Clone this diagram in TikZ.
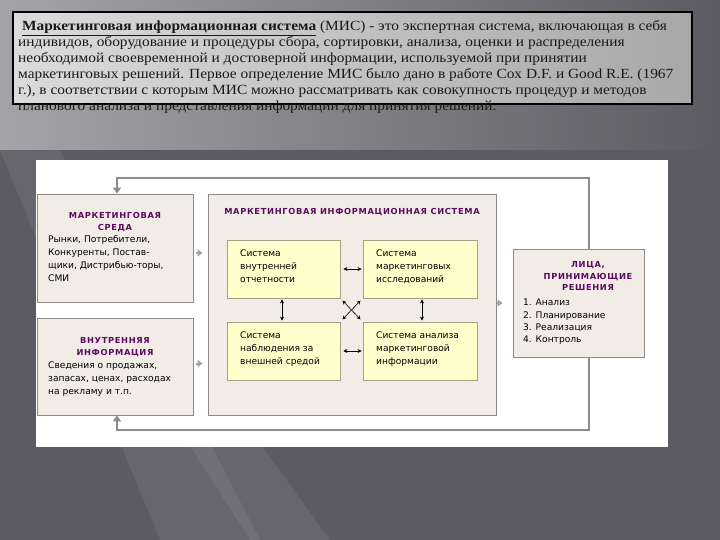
\documentclass[tikz,border=0pt]{standalone}
\usepackage{fontspec}
\setmainfont{Liberation Serif}
\newfontfamily\hfont[FakeStretch=1.1]{Liberation Serif}
\newfontfamily\dfont{DejaVu Sans}
\newfontfamily\tfont[LetterSpace=8]{DejaVu Sans Bold}
\usetikzlibrary{arrows.meta,calc}
\definecolor{bgdark}{HTML}{5C5B61}
\definecolor{bglight}{HTML}{A4A4A8}
\definecolor{boxfill}{HTML}{F1EDE6}
\definecolor{boxline}{HTML}{8E8B86}
\definecolor{innerfill}{HTML}{FFFFCC}
\definecolor{innerline}{HTML}{A3A18A}
\definecolor{ttl}{HTML}{5E0A62}
\definecolor{fbgray}{HTML}{8C8C8C}
\begin{document}
\begin{tikzpicture}[x=1pt,y=-1pt,
  outerbox/.style={draw=boxline,fill=boxfill,line width=0.8pt,inner sep=0pt},
  innerbox/.style={draw=innerline,fill=innerfill,line width=0.8pt,inner sep=0pt},
  ttltext/.style={font=\tfont\fontsize{8.3}{12}\selectfont,text=ttl,align=center,inner sep=0pt},
  bodytext/.style={font=\dfont\fontsize{9.1}{13}\selectfont,text=black,align=left,inner sep=0pt,anchor=north west},
  headline/.style={font=\hfont\fontsize{14}{16}\selectfont,text=black!90,anchor=base west,inner sep=0pt},
  fbarrow/.style={draw=fbgray,line width=2.6pt,-{Triangle[width=8pt,length=6pt]}},
  grayarrow/.style={draw=fbgray!80,line width=2pt,-{Triangle[width=7pt,length=5pt]}},
  dblarrow/.style={draw=black,line width=0.6pt,{Stealth[width=4pt,length=4pt]}-{Stealth[width=4pt,length=4pt]}}
]
\useasboundingbox (0,0) rectangle (720,540);
% background
\fill[bgdark] (0,0) rectangle (720,540);
\shade[left color=bglight,right color=bgdark] (0,0) rectangle (720,150);
\fill[white,opacity=0.07] (0,150) -- (60,150) -- (260,540) -- (160,540) -- cycle;
\fill[white,opacity=0.07] (180,430) -- (250,430) -- (330,540) -- (250,540) -- cycle;
% header text box
\shade[left color=black!14,right color=black!34,draw=black,line width=1.2pt] (13,12) rectangle (692,104);
\node[headline] (h1) at (18,31) {\ \underline{\textbf{Маркетинговая информационная система}} (МИС) - это экспертная система, включающая в себя};
\node[headline] (h2) at (18,47) {индивидов, оборудование и процедуры сбора, сортировки, анализа, оценки и распределения};
\node[headline] (h3) at (18,63) {необходимой своевременной и достоверной информации, используемой при принятии};
\node[headline] (h4) at (18,79) {маркетинговых решений. Первое определение МИС было дано в работе Cox D.F. и Good R.E. (1967};
\node[headline] (h5) at (18,95) {г.), в соответствии с которым МИС можно рассматривать как совокупность процедур и методов};
\node[headline] (h6) at (18,111) {планового анализа и представления информации для принятия решений.};
% white panel
\fill[white] (36,160) rectangle (668,447);
% boxes
\node[outerbox,minimum width=156pt,minimum height=108pt] (env) at (115,248) {};
\node[outerbox,minimum width=156pt,minimum height=97pt] (intinf) at (115,366.5) {};
\node[outerbox,minimum width=288pt,minimum height=221pt] (mis) at (352,304.5) {};
\node[outerbox,minimum width=131pt,minimum height=108pt] (dec) at (578.5,303) {};
\node[innerbox,minimum width=113pt,minimum height=58pt] (sa) at (283.5,269) {};
\node[innerbox,minimum width=114pt,minimum height=58pt] (sb) at (420,269) {};
\node[innerbox,minimum width=113pt,minimum height=58pt] (sc) at (283.5,351) {};
\node[innerbox,minimum width=114pt,minimum height=58pt] (sd) at (420,351) {};
% texts
\node[ttltext] (envt) at (115,222) {МАРКЕТИНГОВАЯ\\СРЕДА};
\node[bodytext] (envb) at (48,235) {Рынки, Потребители,\\Конкуренты, Постав-\\щики, Дистрибью-торы,\\СМИ};
\node[ttltext] (intt) at (115,347) {ВНУТРЕННЯЯ\\ИНФОРМАЦИЯ};
\node[bodytext] (intb) at (48,362) {Сведения о продажах,\\запасах, ценах, расходах\\на рекламу и т.п.};
\node[ttltext] (mist) at (352,212) {МАРКЕТИНГОВАЯ ИНФОРМАЦИОННАЯ СИСТЕМА};
\node[ttltext,font=\tfont\fontsize{8.3}{11.5}\selectfont] (dect) at (588,276) {ЛИЦА,\\ПРИНИМАЮЩИЕ\\РЕШЕНИЯ};
\node[bodytext,font=\dfont\fontsize{9.1}{12.3}\selectfont] (decb) at (523,299) {1. Анализ\\2. Планирование\\3. Реализация\\4. Контроль};
\node[bodytext] (sat) at (240,250) {Система\\внутренней\\отчетности};
\node[bodytext] (sbt) at (376,250) {Система\\маркетинговых\\исследований};
\node[bodytext] (sct) at (240,332) {Система\\наблюдения за\\внешней средой};
\node[bodytext] (sdt) at (376,332) {Система анализа\\маркетинговой\\информации};
% inner connectors
\draw[dblarrow,shorten <=3pt,shorten >=1pt] (sa.east) -- (sb.west);
\draw[dblarrow,shorten <=3pt,shorten >=1pt] (sc.east) -- (sd.west);
\draw[dblarrow,shorten <=1pt,shorten >=1pt] ($(sa.south)+(-1.5,0)$) -- ($(sc.north)+(-1.5,0)$);
\draw[dblarrow,shorten <=1pt,shorten >=1pt] ($(sb.south)+(2,0)$) -- ($(sd.north)+(2,0)$);
\draw[dblarrow,shorten <=3pt,shorten >=3pt] (sa.south east) -- (sd.north west);
\draw[dblarrow,shorten <=3pt,shorten >=3pt] (sb.south west) -- (sc.north east);
% small gray arrows
\coordinate (a1) at ($(env.east)+(0,5)$);
\coordinate (a2) at ($(intinf.east)+(0,-3)$);
\coordinate (a3) at (dec.west);
\draw[grayarrow,shorten <=3pt,shorten >=5pt] (a1) -- (a1 -| mis.west);
\draw[grayarrow,shorten <=3pt,shorten >=5pt] (a2) -- (a2 -| mis.west);
\draw[grayarrow,shorten <=1pt,shorten >=10pt] (a3 -| mis.east) -- (a3);
% feedback loops
\coordinate (tl) at (117,178);
\coordinate (tr) at (589,178);
\coordinate (bl) at (117,430);
\coordinate (br) at (589,430);
\draw[fbarrow,line join=miter] (tr |- dec.north) -- (tr) -- (tl) -- (tl |- env.north);
\draw[fbarrow,line join=miter] (br |- dec.south) -- (br) -- (bl) -- (bl |- intinf.south);
\end{tikzpicture}
\end{document}
